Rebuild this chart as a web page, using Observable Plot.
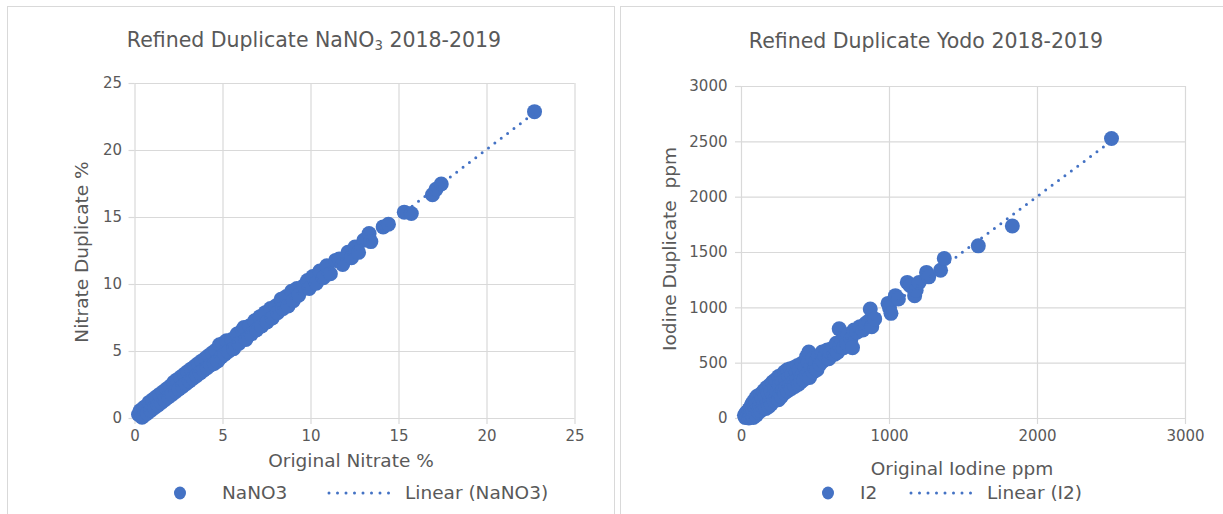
<!DOCTYPE html>
<html><head><meta charset="utf-8">
<script src="https://cdn.jsdelivr.net/npm/d3@7"></script>
<script src="https://cdn.jsdelivr.net/npm/@observablehq/plot@0.6"></script>
<style>
body{margin:0;background:#fff;}
#wrap{position:relative;width:1223px;height:514px;overflow:hidden;font-family:"DejaVu Sans",sans-serif;color:#595959;}
.panel{position:absolute;top:6px;height:530px;border:1px solid #d9d9d9;box-sizing:border-box;}
.t{position:absolute;white-space:pre;transform:translate(-50%,-50%);line-height:1;}
.l{position:absolute;white-space:pre;transform:translateY(-50%);line-height:1;}
.plot{position:absolute;top:0;}
.sym{position:absolute;overflow:visible;}
</style></head><body><div id="wrap"></div>
<script>
// ---- data ----
const nitrateOriginal = [0.2,0.3,0.4,0.5,0.5,0.6,0.7,0.8,0.9,1.0,1.1,1.2,1.3,1.4,1.5,1.6,1.7,1.8,1.9,2.0,
 2.1,2.2,2.3,2.4,2.5,2.6,2.7,2.8,2.9,3.0,3.1,3.2,3.3,3.4,3.5,3.6,3.7,3.8,3.9,4.0,
 4.1,4.2,4.3,4.4,4.5,4.6,4.7,4.8,4.9,5.0,5.1,5.2,5.3,5.5,5.6,5.8,5.9,6.1,6.2,6.3,
 6.5,6.6,6.8,6.9,7.1,7.2,7.4,7.5,7.7,7.8,8.0,8.1,8.3,8.4,8.6,8.7,8.9,9.0,9.2,9.3,
 9.6,9.8,9.9,10.1,10.3,10.5,10.7,10.9,11.1,11.4,11.6,11.8,12.1,12.3,12.5,12.7,13.0,13.3,13.4,14.1,14.4,15.3,15.7,16.9,17.1,17.4,22.7];
const nitrateDuplicate = [0.3,0.6,0.1,0.8,0.2,0.9,0.4,1.2,0.6,1.4,0.8,1.6,1.0,1.8,1.2,2.0,1.4,2.2,1.6,2.4,
 1.8,2.7,2.0,2.9,2.2,3.1,2.4,3.3,2.6,3.5,2.8,3.7,3.0,3.9,3.2,4.1,3.4,4.3,3.6,4.5,
 3.8,4.7,4.0,4.9,4.1,5.1,4.3,5.5,4.6,5.6,4.8,5.8,5.0,5.9,5.2,6.3,5.6,6.6,6.8,5.9,
 6.9,6.3,7.3,6.6,7.6,6.9,7.9,7.2,8.2,7.5,8.4,7.9,8.9,8.2,9.1,8.4,9.5,8.8,9.7,9.2,
 9.9,10.3,9.7,10.6,10.1,11.0,10.5,11.4,10.8,11.8,11.9,11.5,12.4,12.0,12.8,12.4,13.3,13.8,13.2,14.3,14.5,15.4,15.3,16.7,17.1,17.5,22.9];

const iodineOriginal = [20,25,30,35,40,45,50,50,55,60,60,65,70,70,75,80,80,85,90,95,95,100,100,
 105,110,115,120,125,130,130,140,145,150,150,160,165,170,175,180,185,190,195,200,200,
 210,215,220,225,230,235,240,250,250,255,260,270,270,275,280,290,290,300,300,
 310,310,320,325,330,335,340,350,355,360,370,375,380,385,390,400,400,
 410,415,420,430,440,440,450,455,455,460,470,480,485,495,500,
 510,520,530,545,550,565,580,590,600,620,630,640,650,660,665,680,690,700,710,720,740,750,760,
 780,800,820,840,860,870,880,900,990,1000,1010,1040,1060,1120,1140,1170,1180,1200,1250,1265,1345,1370,1600,1830,2500];
const iodineDuplicate = [30,10,50,20,60,30,80,5,40,100,20,60,130,35,80,150,10,50,110,180,70,30,140,
 200,90,60,160,120,220,70,180,100,250,130,200,90,280,150,230,110,300,170,250,130,
 330,200,160,280,350,190,240,380,170,300,220,390,200,330,260,420,230,350,280,
 440,250,380,300,450,270,400,330,460,290,420,350,480,310,440,370,330,
 500,400,350,460,560,390,510,420,600,370,480,540,420,460,510,
 440,560,490,600,520,560,620,540,600,640,580,680,600,810,650,700,640,740,680,760,720,640,800,
 780,830,800,860,880,990,830,900,1040,1000,950,1110,1080,1230,1200,1110,1160,1230,1320,1280,1340,1445,1560,1740,2530];

const nitrateTicks = [0,5,10,15,20,25];
const iodineXTicks = [0,1000,2000,3000];
const iodineYTicks = [0,500,1000,1500,2000,2500,3000];

const BLUE = "#4472C4", GRID = "#d9d9d9", TEXT = "#595959";
const FONT = '"DejaVu Sans", sans-serif';
const wrap = document.getElementById("wrap");

function scatter(xs, ys, o) {
  const data = xs.map((x, i) => ({x, y: ys[i]}));
  const fmt = d3.format("d");
  const svg = Plot.plot({
    width: o.width, height: 514,
    marginLeft: o.ml, marginRight: o.mr, marginTop: o.mt, marginBottom: o.mb,
    x: {domain: o.xDomain, label: null},
    y: {domain: o.yDomain, label: null},
    style: {fontFamily: FONT, fontSize: "15px", color: TEXT, background: "transparent", overflow: "visible"},
    marks: [
      Plot.gridX(o.xTicks, {stroke: GRID, strokeOpacity: 1, strokeWidth: 1.2}),
      Plot.gridY(o.yTicks, {stroke: GRID, strokeOpacity: 1, strokeWidth: 1.2}),
      Plot.axisX(o.xTicks, {tickSize: 6, tickPadding: 6, stroke: GRID, strokeWidth: 1.2, fill: TEXT, tickFormat: fmt}),
      Plot.axisY(o.yTicks, {tickSize: 6, tickPadding: o.yPad, stroke: GRID, strokeWidth: 1.2, fill: TEXT, tickFormat: fmt}),
      Plot.dot(data, {x: "x", y: "y", r: 7.5, fill: BLUE}),
      Plot.linearRegressionY(data, {x: "x", y: "y", ci: 0, stroke: BLUE, strokeWidth: 3, strokeDasharray: "0,8", strokeLinecap: "round"})
    ]
  });
  svg.classList.add("plot");
  svg.style.left = o.left + "px";
  return svg;
}

function panel(left, width) {
  const d = document.createElement("div");
  d.className = "panel";
  d.style.left = left + "px";
  d.style.width = width + "px";
  wrap.appendChild(d);
}
function text(html, x, y, size, cls = "t", rot = false) {
  const d = document.createElement("div");
  d.className = cls;
  d.innerHTML = html;
  d.style.left = x + "px";
  d.style.top = y + "px";
  d.style.fontSize = size + "px";
  if (rot) d.style.transform = "translate(-50%,-50%) rotate(-90deg)";
  wrap.appendChild(d);
}
function legendDot(cx, cy) {
  const s = document.createElementNS("http://www.w3.org/2000/svg", "svg");
  s.setAttribute("class", "sym");
  s.setAttribute("width", 16); s.setAttribute("height", 16);
  s.style.left = (cx - 8) + "px"; s.style.top = (cy - 8) + "px";
  s.innerHTML = `<ellipse cx="8" cy="8" rx="6" ry="6.5" fill="${BLUE}"/>`;
  wrap.appendChild(s);
}
function legendLine(x1, x2, cy) {
  const s = document.createElementNS("http://www.w3.org/2000/svg", "svg");
  s.setAttribute("class", "sym");
  s.setAttribute("width", x2 - x1 + 4); s.setAttribute("height", 6);
  s.style.left = (x1 - 2) + "px"; s.style.top = (cy - 3) + "px";
  s.innerHTML = `<line x1="2" y1="3" x2="${x2 - x1 + 2}" y2="3" stroke="${BLUE}" stroke-width="3" stroke-dasharray="0,8.5" stroke-linecap="round"/>`;
  wrap.appendChild(s);
}

panel(7, 608);
panel(620, 610);

wrap.appendChild(scatter(nitrateOriginal, nitrateDuplicate, {
  left: 0, width: 614, ml: 134.5, mr: 39.5, mt: 83, mb: 96,
  xDomain: [0, 25], yDomain: [0, 25], xTicks: nitrateTicks, yTicks: nitrateTicks, yPad: 7
}));
wrap.appendChild(scatter(iodineOriginal, iodineDuplicate, {
  left: 614, width: 609, ml: 127, mr: 38, mt: 86, mb: 96,
  xDomain: [0, 3000], yDomain: [0, 3000], xTicks: iodineXTicks, yTicks: iodineYTicks, yPad: 8
}));

text('Refined Duplicate NaNO<sub style="font-size:0.65em;vertical-align:-0.25em">3</sub> 2018-2019', 314, 41, 20.5);
text('Refined Duplicate Yodo 2018-2019', 926, 41, 20.5);
text('Original Nitrate %', 351, 461, 18.5);
text('Original Iodine ppm', 962, 469, 18.5);
text('Nitrate Duplicate %', 82, 252, 18.5, "t", true);
text('Iodine Duplicate  ppm', 670, 249, 18.5, "t", true);

legendDot(180, 493);
text('NaNO3', 222, 493, 18.5, "l");
legendLine(329, 397, 493);
text('Linear (NaNO3)', 405, 493, 18.5, "l");
legendDot(828, 493);
text('I2', 860, 493, 18.5, "l");
legendLine(911, 979, 493);
text('Linear (I2)', 987, 493, 18.5, "l");
</script></body></html>
